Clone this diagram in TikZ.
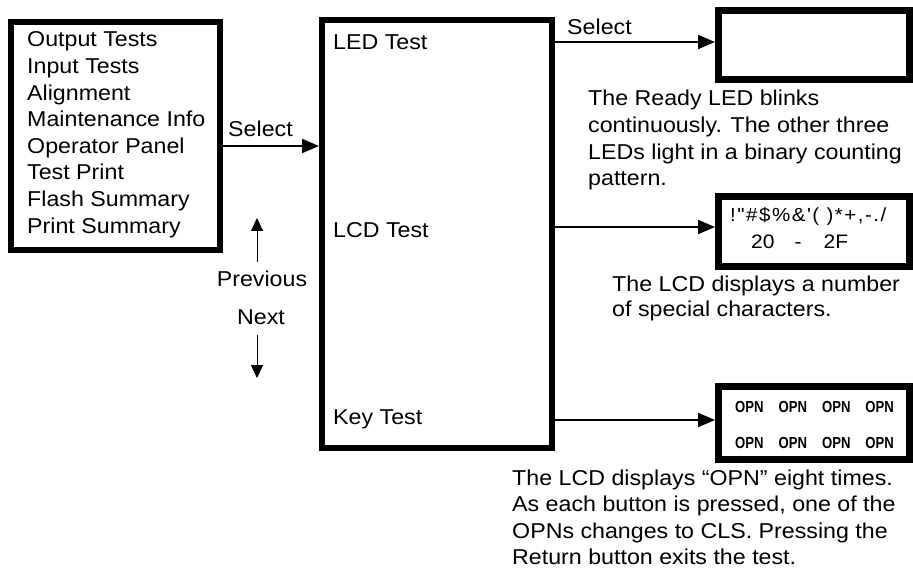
\documentclass[tikz,border=0pt]{standalone}
\usepackage{fontspec}
\setmainfont{Liberation Sans}[FakeStretch=1.08]
\newfontfamily\lcdfont{Liberation Sans}[FakeStretch=1.08]
\newfontfamily\lcdwide{Liberation Sans}[FakeStretch=1.08,LetterSpace=8]
\newfontfamily\opnfont{Liberation Sans}[FakeStretch=0.82]
\usetikzlibrary{arrows.meta}

% a block of left-aligned lines whose baseline is that of its first line
\newcommand{\textlines}[1]{\begin{tabular}[t]{@{}l@{}}#1\end{tabular}}

\tikzset{
  box/.style={draw, rectangle, inner sep=0pt, line width=#1},
  lbl/.style={anchor=base west, inner sep=0pt, font=\fontsize{21.5}{26.6}\selectfont},
  bigarrow/.style={line width=2pt, -{Triangle[length=17pt,width=14pt]}},
  smallarrow/.style={line width=1pt, -{Triangle[length=13pt,width=12pt]}},
  opnrow/.style={anchor=base west, inner sep=0pt, font=\opnfont\bfseries\fontsize{16}{18}\selectfont},
}

\begin{document}
\begin{tikzpicture}[x=1pt,y=-1pt]
\useasboundingbox (0,0) rectangle (913,569);
\fill[white] (0,0) rectangle (913,569);

% boxes (their anchors lie on the outer edge of the thick border)
\node[box=6pt, minimum width=209pt, minimum height=228.5pt] (menu) at (115.5,136.25) {};
\node[box=6pt, minimum width=230pt, minimum height=428pt] (mid) at (437,234) {};
\node[box=7pt, minimum width=190.5pt, minimum height=69pt] (led) at (813.75,45) {};
\node[box=7pt, minimum width=190.5pt, minimum height=70pt] (lcd) at (813.75,231.5) {};
\node[box=7pt, minimum width=190.5pt, minimum height=73pt] (key) at (813.75,422.5) {};

% menu entries
\node[lbl] (menutext) at (27,47) {\textlines{Output Tests\\Input Tests\\Alignment\\Maintenance Info\\Operator Panel\\Test Print\\Flash Summary\\Print Summary}};

% test names
\node[lbl] (ledt) at (333,50) {LED Test};
\node[lbl] (lcdt) at (333,238) {LCD Test};
\node[lbl] (keyt) at (333,424) {Key Test};

% rows of the connectors
\coordinate (selrow) at (0,146);
\coordinate (ledrow) at (0,42);
\coordinate (lcdrow) at (0,227);
\coordinate (keyrow) at (0,420);

\draw[bigarrow] (menu.east |- selrow) -- (mid.west |- selrow);
\node[lbl] (sel1) at (228,137) {Select};

\draw[bigarrow] (mid.east |- ledrow) -- (led.west |- ledrow);
\node[lbl] (sel2) at (567,35) {Select};
\draw[bigarrow] (mid.east |- lcdrow) -- (lcd.west |- lcdrow);
\draw[bigarrow] (mid.east |- keyrow) -- (key.west |- keyrow);

% previous / next
\node[lbl, anchor=base] (prev) at (262,287) {Previous};
\node[lbl, anchor=base] (next) at (261,324) {Next};
\coordinate (uptip) at (257,218);
\coordinate (downtip) at (257,378);
\draw[smallarrow, shorten <=9pt] (prev.north -| uptip) -- (uptip);
\draw[smallarrow, shorten <=11pt] (next.south -| downtip) -- (downtip);

% display contents
\node[anchor=base west, inner sep=0pt, font=\lcdwide\fontsize{19}{22}\selectfont] (lcd1) at (730,222) {!"\#\$\%\&'( )*+,-./};
\node[anchor=base west, inner sep=0pt, font=\lcdfont\fontsize{19.5}{22}\selectfont] (lcd2) at (751,249) {20\hspace{20pt}-\hspace{22pt}2F};
\node[opnrow] (opn1) at (735,412) {OPN\hspace{15pt}OPN\hspace{15pt}OPN\hspace{15pt}OPN};
\node[opnrow] (opn2) at (735,448) {OPN\hspace{15pt}OPN\hspace{15pt}OPN\hspace{15pt}OPN};

% descriptions
\node[lbl] (leddesc) at (588,106) {\textlines{The Ready LED blinks\\continuously. The other three\\LEDs light in a binary counting\\pattern.}};
\node[lbl, font=\fontsize{21.5}{25}\selectfont] (lcddesc) at (612,292) {\textlines{The LCD displays a number\\of special characters.}};
\node[lbl] (keydesc) at (512,485) {\textlines{The LCD displays “OPN” eight times.\\As each button is pressed, one of the\\OPNs changes to CLS. Pressing the\\Return button exits the test.}};
\end{tikzpicture}
\end{document}
